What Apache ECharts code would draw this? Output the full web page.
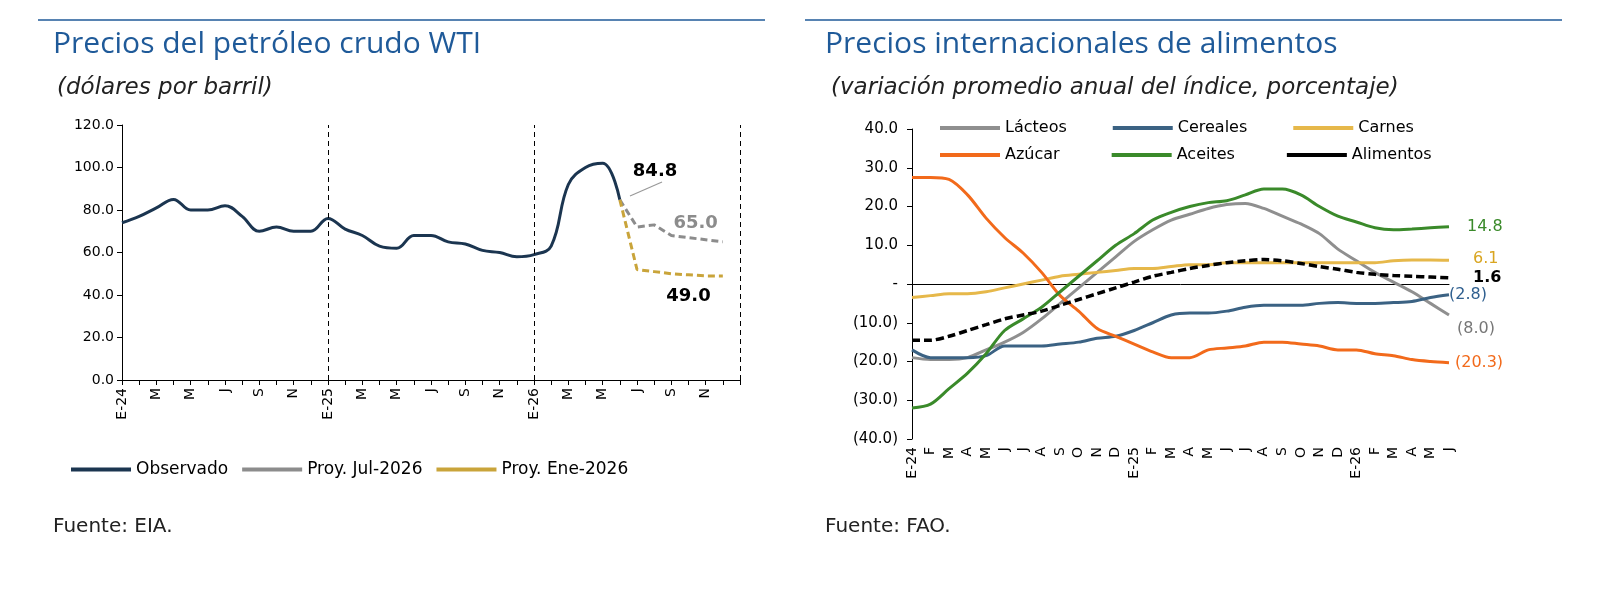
<!DOCTYPE html>
<html><head><meta charset="utf-8">
<script src="https://cdn.jsdelivr.net/npm/echarts@6/dist/echarts.min.js"></script>
<style>body{margin:0;background:#fff}#main{width:1614px;height:606px}</style>
</head><body><div id="main"></div>
<script>
// left chart: WTI, Jan-2024 .. Jan-2027 (last tick blank)
const wtiMonths = ['E-24','F','M','A','M','J','J','A','S','O','N','D','E-25','F','M','A','M','J','J','A','S','O','N','D','E-26','F','M','A','M','J','J','A','S','O','N','D',''];
const observado = [74,77,81,85,80,80,82,77,70,72,70,70,76,71,68,63,62,68,68,65,64,61,60,58,59,63,92,100,102,84.8];
const proyJul = [72,73,68,67,66,65.0];
const proyEne = [52,51,50,49.5,49,49.0];

// right chart: FAO, Jan-2024 .. Jun-2026
const faoMonths = ['E-24','F','M','A','M','J','J','A','S','O','N','D','E-25','F','M','A','M','J','J','A','S','O','N','D','E-26','F','M','A','M','J'];
const lacteos = [-19,-19.5,-19.5,-19,-17,-15,-12.5,-9,-5,-1,3,7,11,14,16.5,18,19.5,20.5,20.8,19.5,17.5,15.5,13,9,6,3,0.5,-2,-5,-8.0];
const cereales = [-17,-19,-19,-19,-18.5,-16,-16,-16,-15.5,-15,-14,-13.5,-12,-10,-8,-7.5,-7.5,-7,-6,-5.5,-5.5,-5.5,-5,-4.8,-5,-5,-4.8,-4.5,-3.5,-2.8];
const carnes = [-3.5,-3,-2.5,-2.5,-2,-1,0,1,2,2.5,3,3.5,4,4,4.5,5,5,5.5,5.5,5.5,5.5,5.5,5.5,5.5,5.5,5.5,6,6.2,6.2,6.1];
const azucar = [27.5,27.5,27,23,17,12,8,3,-3,-7,-11.5,-13.5,-15.5,-17.5,-19,-19,-17,-16.5,-16,-15,-15,-15.5,-16,-17,-17,-18,-18.5,-19.5,-20,-20.3];
const aceites = [-32,-31,-27,-23,-18,-12,-9,-6,-2,2,6,10,13,16.5,18.5,20,21,21.5,23,24.5,24.5,23,20,17.5,16,14.5,14,14.2,14.5,14.8];
const alimentos = [-14.5,-14.5,-13.5,-12,-10.5,-9,-8,-7,-5.5,-4,-2.5,-1,0.5,2,3,4,4.8,5.5,6,6.3,6,5.3,4.5,3.8,3,2.5,2.2,2,1.8,1.6];

const F = 'DejaVu Sans';
const navy = '#1b3550', gray = '#8c8c8c', gold = '#c9a43a';
const cLac = '#8f8f8f', cCer = '#3b6283', cCar = '#e6b84a', cAzu = '#f26a1b', cAce = '#3a8a2a';
const lineIcon = 'path://M0,0H60V4H0Z';

const pad = (arr, start, len) => { const a = new Array(len).fill(null); arr.forEach((v, i) => a[start + i] = v); return a; };
const fmt = v => v === 0 ? '-' : (v < 0 ? '(' + Math.abs(v).toFixed(1) + ')' : v.toFixed(1));
const big = (txt, color, pos, off) => ({show: true, position: pos, offset: off, formatter: txt, fontWeight: 'bold', fontSize: 18, color: color, fontFamily: F});

const n1 = wtiMonths.length;
const obsData = pad(observado, 0, n1);
obsData[29] = {value: 84.8, label: big('84.8', '#000', 'right', [8, -28])};
const julData = pad([84.8].concat(proyJul), 29, n1);
julData[34] = {value: 66, label: big('65.0', gray, 'top', [-10, -2])};
const eneData = pad([84.8].concat(proyEne), 29, n1);
eneData[33] = {value: 49.5, label: big('49.0', '#000', 'bottom', [0, 8])};

const endLab = (color, bold) => ({show: true, formatter: p => fmt(p.value), color: color, fontSize: 16, fontFamily: F, fontWeight: bold ? 'bold' : 'normal', distance: 12});
const line = (name, data, color, extra) => Object.assign({name: name, type: 'line', data: data, xAxisIndex: 1, yAxisIndex: 1, smooth: 0.3, symbol: 'none',
  lineStyle: {color: color, width: 3}, itemStyle: {color: color}}, extra);

const chart = echarts.init(document.getElementById('main'));
chart.setOption({
  animation: false,
  textStyle: {fontFamily: F},
  title: [
    {text: 'Precios del petróleo crudo WTI', left: 48, top: 24, textStyle: {color: '#1f5a99', fontSize: 30, fontWeight: 'normal', fontFamily: 'Open Sans'}},
    {text: '(dólares por barril)', left: 52, top: 72, textStyle: {color: '#222', fontSize: 23, fontStyle: 'italic', fontWeight: 'normal', fontFamily: F}},
    {text: 'Precios internacionales de alimentos', left: 820, top: 24, textStyle: {color: '#1f5a99', fontSize: 30, fontWeight: 'normal', fontFamily: 'Open Sans'}},
    {text: '(variación promedio anual del índice, porcentaje)', left: 826, top: 72, textStyle: {color: '#222', fontSize: 23, fontStyle: 'italic', fontWeight: 'normal', fontFamily: F}},
    {text: 'Fuente: EIA.', left: 48, top: 512, textStyle: {color: '#222', fontSize: 20, fontWeight: 'normal', fontFamily: F}},
    {text: 'Fuente: FAO.', left: 820, top: 512, textStyle: {color: '#222', fontSize: 20, fontWeight: 'normal', fontFamily: F}}
  ],
  graphic: [
    {type: 'line', shape: {x1: 38, y1: 20, x2: 765, y2: 20}, style: {stroke: '#1f5a99', lineWidth: 1.5}},
    {type: 'line', shape: {x1: 805, y1: 20, x2: 1562, y2: 20}, style: {stroke: '#1f5a99', lineWidth: 1.5}},
    {type: 'line', shape: {x1: 630, y1: 196, x2: 662, y2: 182}, style: {stroke: '#999', lineWidth: 1.2}}
  ],
  legend: [
    {data: ['Observado', 'Proy. Jul-2026', 'Proy. Ene-2026'], left: 66, top: 456, itemWidth: 60, itemHeight: 4, itemGap: 14, icon: lineIcon,
      textStyle: {fontSize: 17, fontFamily: F, color: '#000'}},
    {data: ['Lácteos', 'Cereales', 'Carnes'], left: 935, top: 115, itemWidth: 60, itemHeight: 4, itemGap: 46, icon: lineIcon, textStyle: {fontSize: 16, fontFamily: F, color: '#000'}},
    {data: ['Azúcar', 'Aceites', 'Alimentos'], left: 935, top: 142, itemWidth: 60, itemHeight: 4, itemGap: 52, icon: lineIcon, textStyle: {fontSize: 16, fontFamily: F, color: '#000'}}
  ],
  grid: [
    {left: 122, top: 125, width: 618, height: 255},
    {left: 912, top: 129, width: 537, height: 310}
  ],
  xAxis: [
    {gridIndex: 0, type: 'category', data: wtiMonths, boundaryGap: false,
      axisLine: {lineStyle: {color: '#000'}}, axisTick: {interval: 0, lineStyle: {color: '#000'}},
      axisLabel: {interval: 1, rotate: 90, color: '#000', fontSize: 14, fontFamily: F}},
    {gridIndex: 1, type: 'category', data: faoMonths, boundaryGap: false,
      axisLine: {onZero: false, show: false}, axisTick: {show: false},
      axisLabel: {interval: 0, rotate: 90, color: '#000', fontSize: 14, fontFamily: F}},
    {gridIndex: 1, type: 'category', data: faoMonths, boundaryGap: false, position: 'bottom',
      axisLine: {onZero: true, lineStyle: {color: '#000'}}, axisTick: {show: false}, axisLabel: {show: false}}
  ],
  yAxis: [
    {gridIndex: 0, type: 'value', min: 0, max: 120, interval: 20, splitLine: {show: false},
      axisLine: {show: true, lineStyle: {color: '#000'}}, axisTick: {show: true},
      axisLabel: {formatter: v => v.toFixed(1), color: '#000', fontSize: 14, fontFamily: F}},
    {gridIndex: 1, type: 'value', min: -40, max: 40, interval: 10, splitLine: {show: false},
      axisLine: {show: true, lineStyle: {color: '#000'}}, axisTick: {show: true},
      axisLabel: {formatter: fmt, color: '#000', fontSize: 15, fontFamily: F, margin: 14}}
  ],
  series: [
    {name: 'Observado', type: 'line', data: obsData, xAxisIndex: 0, yAxisIndex: 0, smooth: 0.4, symbol: 'circle', symbolSize: 0, showSymbol: true,
      lineStyle: {color: navy, width: 3}, itemStyle: {color: navy},
      markLine: {symbol: 'none', silent: true, label: {show: false}, lineStyle: {color: '#000', type: [5, 4], width: 1},
        data: [{xAxis: 'E-25'}, {xAxis: 'E-26'}, {xAxis: 36}]}},
    {name: 'Proy. Jul-2026', type: 'line', data: julData, xAxisIndex: 0, yAxisIndex: 0, symbol: 'circle', symbolSize: 0, showSymbol: true,
      lineStyle: {color: gray, width: 3, type: [7, 4]}, itemStyle: {color: gray}},
    {name: 'Proy. Ene-2026', type: 'line', data: eneData, xAxisIndex: 0, yAxisIndex: 0, symbol: 'circle', symbolSize: 0, showSymbol: true,
      lineStyle: {color: gold, width: 3, type: [7, 4]}, itemStyle: {color: gold}},
    line('Lácteos', lacteos, cLac, {endLabel: Object.assign(endLab('#777'), {offset: [-4, 14]})}),
    line('Cereales', cereales, cCer, {endLabel: Object.assign(endLab('#2f5f8f'), {offset: [-12, 0]})}),
    line('Carnes', carnes, cCar, {endLabel: Object.assign(endLab('#d9a520'), {offset: [12, -2]})}),
    line('Azúcar', azucar, cAzu, {endLabel: Object.assign(endLab(cAzu), {offset: [-6, 0]})}),
    line('Aceites', aceites, cAce, {endLabel: Object.assign(endLab(cAce), {offset: [6, 0]})}),
    line('Alimentos', alimentos, '#000', {lineStyle: {color: '#000', width: 3.5, type: [8, 4]}, endLabel: Object.assign(endLab('#000', true), {offset: [12, 0]})})
  ]
});
</script></body></html>
